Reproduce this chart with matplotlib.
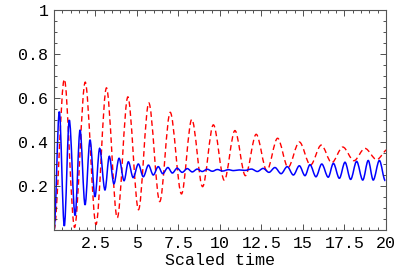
import matplotlib
matplotlib.use("Agg")
import matplotlib.pyplot as plt
from matplotlib.path import Path
from matplotlib.patches import PathPatch
from matplotlib.ticker import FixedLocator, FixedFormatter, MultipleLocator

# extrema (peaks / troughs), scaled time vs value
red_t = [0, 0.62, 1.24, 1.88, 2.53, 3.16, 3.81, 4.45, 5.09, 5.71, 6.37, 7.0,
         7.68, 8.3, 8.95, 9.6, 10.26, 10.9, 11.53, 12.18, 12.82, 13.47, 14.1,
         14.78, 15.45, 16.1, 16.73, 17.4, 18.07, 18.73, 19.44, 20.1]
red_y = [0.0, 0.685, 0.012, 0.672, 0.025, 0.646, 0.055, 0.605, 0.092, 0.578,
         0.129, 0.535, 0.164, 0.503, 0.197, 0.478, 0.226, 0.452, 0.247, 0.435,
         0.27, 0.417, 0.285, 0.40, 0.295, 0.386, 0.306, 0.377, 0.315, 0.371,
         0.32, 0.366]

blue_t = [0, 0.32, 0.62, 0.92, 1.27, 1.57, 1.87, 2.17, 2.47, 2.75, 3.07, 3.33,
          3.61, 3.92, 4.22, 4.48, 4.77, 5.08, 5.38, 5.69, 5.98, 6.28, 6.55,
          6.86, 7.13, 7.42, 7.72, 8.03, 8.33, 8.63, 8.93, 9.23, 9.54, 9.84,
          10.16, 10.5, 10.82, 11.16, 11.5, 11.9, 12.25, 12.6, 12.95, 13.31,
          13.68, 14.05, 14.42, 14.78, 15.12, 15.42, 15.78, 16.13, 16.52, 16.83,
          17.19, 17.53, 17.87, 18.23, 18.6, 18.93, 19.23, 19.6, 19.96]
blue_y = [0.0, 0.538, 0.018, 0.50, 0.066, 0.455, 0.114, 0.41, 0.151, 0.371,
          0.182, 0.335, 0.21, 0.326, 0.224, 0.31, 0.238, 0.30, 0.242, 0.295,
          0.25, 0.288, 0.256, 0.284, 0.259, 0.281, 0.262, 0.279, 0.264, 0.277,
          0.266, 0.276, 0.267, 0.275, 0.268, 0.274, 0.27, 0.273, 0.271, 0.277,
          0.266, 0.28, 0.262, 0.284, 0.256, 0.288, 0.25, 0.292, 0.247, 0.297,
          0.242, 0.30, 0.24, 0.303, 0.235, 0.308, 0.23, 0.312, 0.227, 0.316,
          0.227, 0.316, 0.224]

xticks = [2.5, 5, 7.5, 10, 12.5, 15, 17.5, 20]
xlabels = ["2.5", "5", "7.5", "10", "12.5", "15", "17.5", "20"]
yticks = [0.2, 0.4, 0.6, 0.8, 1.0]
ylabels = ["0.2", "0.4", "0.6", "0.8", "1"]


def wave_path(ts, ys):
    # smooth curve through the extrema: cubic segments with flat tangents
    verts = [(ts[0], ys[0])]
    codes = [Path.MOVETO]
    for t0, y0, t1, y1 in zip(ts[:-1], ys[:-1], ts[1:], ys[1:]):
        d = (t1 - t0) / 3
        verts += [(t0 + d, y0), (t1 - d, y1), (t1, y1)]
        codes += [Path.CURVE4] * 3
    return Path(verts, codes)


plt.rcParams["font.family"] = ["Liberation Mono", "DejaVu Sans Mono"]

fig = plt.figure(figsize=(4.14, 2.77), dpi=100)
ax = fig.add_axes([54 / 414, 1 - 230 / 277, 332 / 414, 220 / 277])

ax.add_patch(PathPatch(wave_path(red_t, red_y), fill=False, edgecolor="red",
                       lw=1.0, linestyle=(0, (4, 2.5))))
ax.add_patch(PathPatch(wave_path(blue_t, blue_y), fill=False, edgecolor="blue",
                       lw=1.1))

ax.set_xlim(0, 20)
ax.set_ylim(0, 1)

ax.xaxis.set_major_locator(FixedLocator(xticks))
ax.xaxis.set_major_formatter(FixedFormatter(xlabels))
ax.yaxis.set_major_locator(FixedLocator(yticks))
ax.yaxis.set_major_formatter(FixedFormatter(ylabels))
ax.xaxis.set_minor_locator(MultipleLocator(0.5))
ax.yaxis.set_minor_locator(MultipleLocator(0.05))

ax.tick_params(which="both", direction="in", top=True, right=True,
               colors="#333333", labelcolor="black", labelsize=12, width=0.6)
ax.tick_params(which="major", length=4, pad=4)
ax.tick_params(which="minor", length=2)
for s in ax.spines.values():
    s.set_color("#555555")
    s.set_linewidth(0.8)

ax.set_xlabel("Scaled time", fontsize=12, labelpad=2)

fig.savefig("out.png", dpi=100)
